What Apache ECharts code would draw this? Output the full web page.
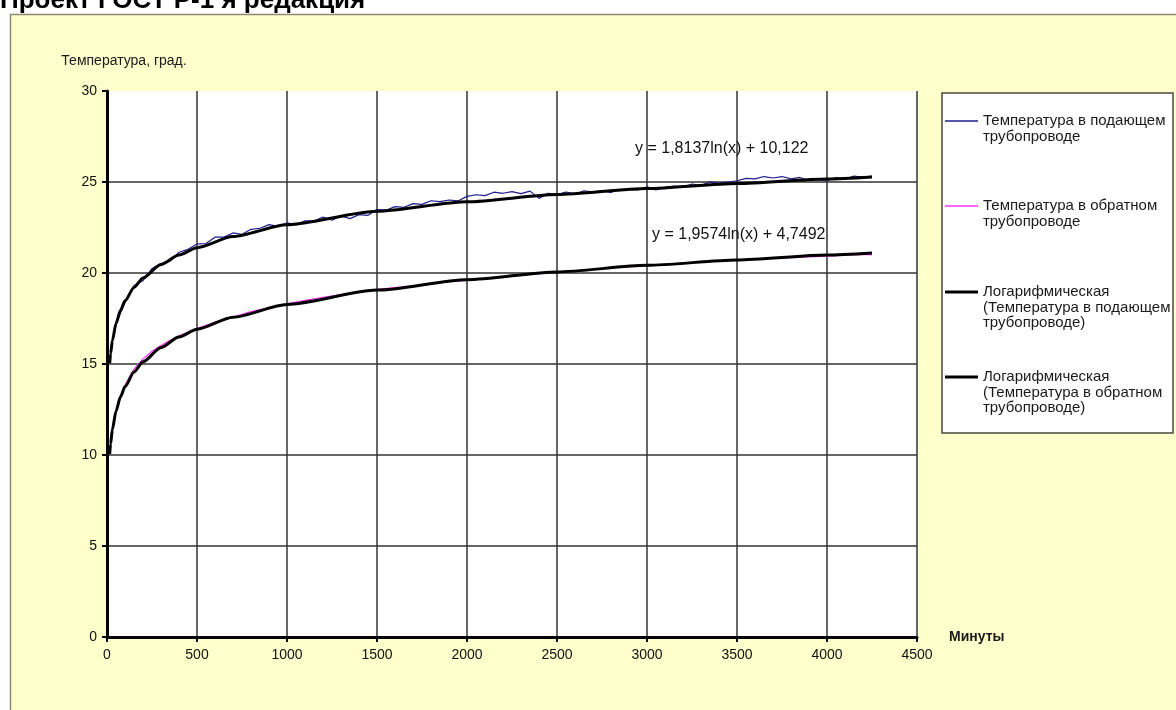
<!DOCTYPE html>
<html>
<head>
<meta charset="utf-8">
<script src="https://cdn.jsdelivr.net/npm/echarts@6/dist/echarts.min.js"></script>
<style>
html,body{margin:0;padding:0;background:#fff;}
#chart{width:1176px;height:710px;}
</style>
</head>
<body>
<div id="chart"></div>
<script>
// ---- data ----
const titleText = 'Проект ГОСТ Р-1 я редакция';
const yAxisTitle = 'Температура, град.';
const xAxisTitle = 'Минуты';
const xTicks = [0, 500, 1000, 1500, 2000, 2500, 3000, 3500, 4000, 4500];
const yTicks = [0, 5, 10, 15, 20, 25, 30];

const seriesNames = [
  'Температура в подающем трубопроводе',
  'Температура в обратном трубопроводе',
  'Логарифмическая (Температура в подающем трубопроводе)',
  'Логарифмическая (Температура в обратном трубопроводе)'
];
const legendLabels = [
  'Температура в подающем\nтрубопроводе',
  'Температура в обратном\nтрубопроводе',
  'Логарифмическая\n(Температура в подающем\nтрубопроводе)',
  'Логарифмическая\n(Температура в обратном\nтрубопроводе)'
];
const equations = ['y = 1,8137ln(x) + 10,122', 'y = 1,9574ln(x) + 4,7492'];

const supplyMinutes = [20,30,50,100,150,200,250,300,350,400,450,500,550,600,650,700,750,800,850,900,950,1000,1050,1100,1150,1200,1250,1300,1350,1400,1450,1500,1550,1600,1650,1700,1750,1800,1850,1900,1950,2000,2050,2100,2150,2200,2250,2300,2350,2400,2450,2500,2550,2600,2650,2700,2750,2800,2850,2900,2950,3000,3050,3100,3150,3200,3250,3300,3350,3400,3450,3500,3550,3600,3650,3700,3750,3800,3850,3900,3950,4000,4050,4100,4150,4200,4250];
const supplyTemp = [15.7,16.3,17.22,18.37,19.31,19.58,20.24,20.52,20.65,21.14,21.30,21.59,21.62,21.97,21.97,22.20,22.13,22.40,22.46,22.66,22.56,22.75,22.64,22.87,22.85,23.08,22.90,23.13,22.99,23.21,23.17,23.49,23.45,23.65,23.61,23.81,23.77,23.97,23.92,24.01,23.96,24.21,24.30,24.25,24.44,24.38,24.47,24.36,24.50,24.10,24.38,24.31,24.45,24.33,24.52,24.45,24.53,24.42,24.60,24.58,24.56,24.74,24.57,24.70,24.78,24.71,24.89,24.82,24.99,24.92,25.00,25.07,25.20,25.17,25.30,25.22,25.30,25.17,25.25,25.07,25.14,25.07,25.24,25.16,25.33,25.25,25.33];

const returnMinutes = [20,30,50,100,150,200,250,300,350,400,450,500,600,700,800,900,1000,1100,1200,1300,1400,1500,1600,1700,1800,1900,2000,2100,2200,2300,2400,2500,2600,2700,2800,2900,3000,3100,3200,3300,3400,3500,3600,3700,3800,3900,4000,4100,4200,4250];
const returnTemp = [10.7,11.5,12.45,13.85,14.72,15.28,15.70,16.02,16.30,16.55,16.76,16.95,17.30,17.58,17.88,18.10,18.30,18.50,18.66,18.82,18.95,19.10,19.20,19.30,19.42,19.52,19.60,19.70,19.80,19.88,19.97,20.05,20.12,20.20,20.28,20.34,20.40,20.47,20.54,20.60,20.66,20.70,20.76,20.81,20.85,20.88,20.93,20.98,21.02,21.00];

const trendMinutes = [15,20,30,50,75,100,150,200,300,400,500,700,1000,1500,2000,2500,3000,3500,4000,4250];
const supplyTrend = [15.03,15.56,16.29,17.22,17.95,18.47,19.21,19.73,20.47,20.99,21.39,22.00,22.65,23.39,23.91,24.31,24.64,24.92,25.17,25.28];
const returnTrend = [10.05,10.61,11.41,12.41,13.20,13.76,14.56,15.12,15.91,16.48,16.91,17.57,18.27,19.06,19.63,20.06,20.42,20.72,20.99,21.10];

// ---- build chart ----
const zip = (xs, ys) => xs.map((x, i) => [x, ys[i]]);
const FONT = '"Liberation Sans", Arial, sans-serif';
const chart = echarts.init(document.getElementById('chart'), null, {renderer: 'canvas'});

const lineColors = ['#1c1c8c', '#ff33ff', '#000000', '#000000'];
const lineWidths = [1.2, 1.2, 3, 3];

const legendLineH = 15.5;
const legendCenters = [121, 206, 292, 377];
const legends = seriesNames.map((name, i) => {
  const n = legendLabels[i].split('\n').length;
  const h = (2 * n - 1) * legendLineH;
  return {
    data: [{name: name, icon: 'rect', itemStyle: {color: lineColors[i]}}],
    left: 945,
    top: legendCenters[i] - h / 2,
    padding: 0,
    itemWidth: 33,
    itemHeight: lineWidths[i] < 2 ? 1.5 : 3,
    itemGap: 0,
    selectedMode: false,
    z: 10,
    formatter: () => '\n'.repeat(n - 1) + legendLabels[i],
    textStyle: {fontFamily: FONT, fontSize: 15, color: '#1a1a1a', lineHeight: legendLineH}
  };
});

const option = {
  backgroundColor: '#ffffff',
  animation: false,
  title: {
    text: titleText,
    left: 0,
    top: -12,
    padding: 0,
    textStyle: {fontFamily: FONT, fontSize: 26, fontWeight: 'bold', color: '#000'}
  },
  graphic: [
    {type: 'rect', z: -10, shape: {x: 10.5, y: 14.5, width: 1200, height: 720},
     style: {fill: '#ffffcc', stroke: '#8a8a7a', lineWidth: 1.5}},
    {type: 'rect', z: 1, shape: {x: 942, y: 93, width: 231, height: 340},
     style: {fill: '#ffffff', stroke: '#4a4a40', lineWidth: 1.5}},
    {type: 'text', z: 5, left: 635, top: 141,
     style: {text: equations[0], fontFamily: FONT, fontSize: 16, fill: '#111'}},
    {type: 'text', z: 5, left: 652, top: 227,
     style: {text: equations[1], fontFamily: FONT, fontSize: 16, fill: '#111'}}
  ],
  legend: legends,
  grid: {
    left: 107, top: 91, width: 810, height: 546,
    show: true, backgroundColor: '#ffffff', borderWidth: 0, containLabel: false
  },
  xAxis: {
    type: 'value',
    min: xTicks[0], max: xTicks[xTicks.length - 1], interval: xTicks[1] - xTicks[0],
    name: xAxisTitle,
    nameLocation: 'end',
    nameGap: 32,
    nameTextStyle: {fontFamily: FONT, fontSize: 14, fontWeight: 'bold', color: '#1a1a1a', align: 'left', verticalAlign: 'middle'},
    axisLine: {show: true, onZero: false, lineStyle: {color: '#000', width: 3}},
    axisTick: {show: true, inside: false, length: 5, lineStyle: {color: '#000', width: 2}},
    axisLabel: {fontFamily: FONT, fontSize: 14, color: '#111', margin: 11, formatter: v => String(v)},
    splitLine: {show: true, showMinLine: false, showMaxLine: true, lineStyle: {color: '#333333', width: 1.5}}
  },
  yAxis: {
    type: 'value',
    min: yTicks[0], max: yTicks[yTicks.length - 1], interval: yTicks[1] - yTicks[0],
    name: yAxisTitle,
    nameLocation: 'end',
    nameGap: 23,
    nameTextStyle: {fontFamily: FONT, fontSize: 14, color: '#1a1a1a', align: 'center', padding: [0, 0, 0, 34]},
    axisLine: {show: true, onZero: false, lineStyle: {color: '#000', width: 3}},
    axisTick: {show: true, inside: false, length: 5, lineStyle: {color: '#000', width: 2}},
    axisLabel: {fontFamily: FONT, fontSize: 14, color: '#111', margin: 10},
    splitLine: {show: true, showMinLine: false, showMaxLine: false, lineStyle: {color: '#333333', width: 1.5}}
  },
  series: [
    {name: seriesNames[0], type: 'line', symbol: 'none', data: zip(supplyMinutes, supplyTemp),
     lineStyle: {color: lineColors[0], width: lineWidths[0]}, itemStyle: {color: lineColors[0]}, z: 2},
    {name: seriesNames[1], type: 'line', symbol: 'none', data: zip(returnMinutes, returnTemp),
     lineStyle: {color: lineColors[1], width: lineWidths[1]}, itemStyle: {color: lineColors[1]}, z: 2},
    {name: seriesNames[2], type: 'line', symbol: 'none', smooth: 0.25, smoothMonotone: 'x',
     data: zip(trendMinutes, supplyTrend),
     lineStyle: {color: lineColors[2], width: lineWidths[2]}, itemStyle: {color: lineColors[2]}, z: 3},
    {name: seriesNames[3], type: 'line', symbol: 'none', smooth: 0.25, smoothMonotone: 'x',
     data: zip(trendMinutes, returnTrend),
     lineStyle: {color: lineColors[3], width: lineWidths[3]}, itemStyle: {color: lineColors[3]}, z: 3}
  ]
};
chart.setOption(option);
</script>
</body>
</html>
